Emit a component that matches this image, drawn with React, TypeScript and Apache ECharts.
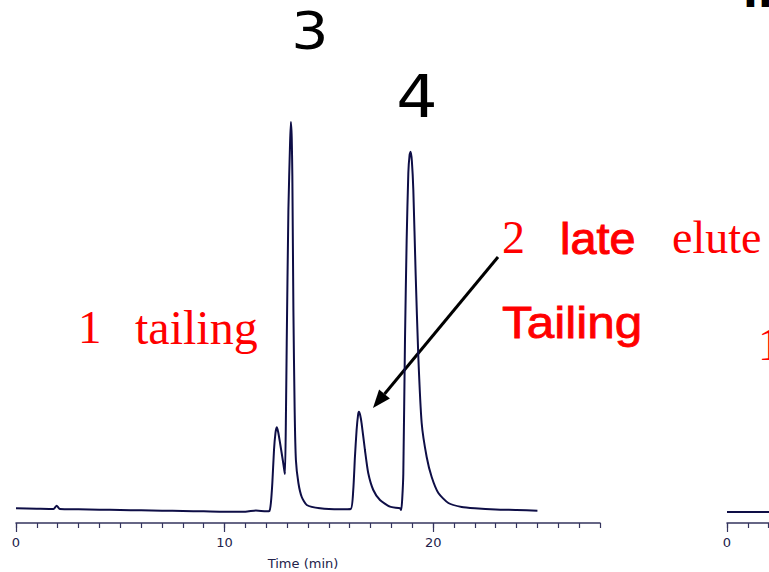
import React, { useEffect, useRef } from "react";
import * as echarts from "echarts";

// Chromatogram trace (time in min, detector signal in arbitrary units)
const timeMin = [
  0, 1, 1.8, 1.95, 2.1, 3, 4, 5, 6, 7, 8, 9, 10, 11, 11.5, 12, 12.15, 12.22, 12.29, 12.37,
  12.44, 12.5, 12.57, 12.66, 12.79, 12.87, 12.9, 12.945, 12.98, 13.06, 13.14, 13.18, 13.22,
  13.25, 13.3, 13.36, 13.42, 13.54, 13.7, 13.94, 14.58, 15.53, 16.05, 16.17, 16.25, 16.33,
  16.4, 16.44, 16.5, 16.57, 16.73, 16.89, 17.13, 17.45, 17.93, 18.41, 18.47, 18.52, 18.57,
  18.65, 18.73, 18.81, 18.87, 18.92, 18.98, 19.05, 19.16, 19.29, 19.45, 19.69, 19.93, 20.25,
  20.73, 21.37, 22, 23, 24, 25,
];
const signal = [
  14.7, 14.3, 14, 17.3, 14, 13.7, 13.3, 13, 12.7, 12.3, 12, 11.7, 11.3, 11.3, 12.5, 11.7, 12,
  20, 40, 73, 90, 95.7, 91, 80, 63, 52, 49, 113, 180, 313, 380, 401, 385, 346, 213, 113, 63,
  40, 26, 18, 14.7, 13.7, 14, 33, 66, 93, 108, 111.3, 108, 99.7, 73, 49.7, 33, 23, 16.3, 14.7,
  13, 25, 49.7, 183, 283, 350, 368, 371.3, 362, 333, 250, 166, 100, 66, 46, 30, 20, 16, 14.7,
  13.5, 13, 12.3,
];

// Neighbouring chromatogram (only its start is visible)
const timeMin2 = [0, 1, 2, 3];
const signal2 = [11, 11, 11, 11];

const majorTicks = [0, 10, 20];
const minorTicks = [0, 1, 2, 3, 4, 5, 6, 7, 8, 9, 10, 11, 12, 13, 14, 15, 16, 17, 18, 19, 20, 21, 22, 23, 24, 25, 26, 27, 28];
const majorTicks2 = [0];
const minorTicks2 = [0, 1, 2, 3];
const axisName = "Time (min)";

const AXIS = "#34345e";
const LABEL = "#22224a";
const TRACE = "#0e0e46";
const RED = "#ff0000";
const SERIF = '"Liberation Serif", "Times New Roman", serif';
const SANS = '"DejaVu Sans", sans-serif';
const ARIAL = '"Liberation Sans", Arial, sans-serif';

function minorAxis(gridIndex: number, ticks: number[]) {
  return {
    gridIndex,
    type: "value",
    min: 0,
    max: 28,
    interval: 1,
    position: "bottom",
    axisLine: { show: true, onZero: false, lineStyle: { color: AXIS, width: 1.5 } },
    axisTick: { show: true, customValues: ticks, length: 5, lineStyle: { color: AXIS, width: 1.2 } },
    axisLabel: { show: false },
    splitLine: { show: false },
  };
}

function majorAxis(gridIndex: number, ticks: number[], name: string) {
  return {
    gridIndex,
    type: "value",
    min: 0,
    max: 28,
    interval: 10,
    position: "bottom",
    name,
    nameLocation: "middle",
    nameGap: 34,
    nameTextStyle: { color: LABEL, fontSize: 13, fontFamily: SANS, padding: [0, 10, 0, 0] },
    axisLine: { show: false, onZero: false },
    axisTick: { show: true, customValues: ticks, length: 9, lineStyle: { color: AXIS, width: 1.2 } },
    axisLabel: {
      show: true,
      customValues: ticks,
      margin: 13,
      color: LABEL,
      fontSize: 13,
      fontFamily: SANS,
    },
    splitLine: { show: false },
  };
}

export default function App() {
  const ref = useRef<HTMLDivElement>(null);
  useEffect(() => {
    if (!ref.current) return;
    const chart = echarts.init(ref.current, undefined, { renderer: "svg" });
    const txt = (text: string, x: number, y: number, size: number, family: string, fill: string, scaleX = 1, strokeW = 0) => ({
      type: "text",
      x,
      y,
      scaleX,
      silent: true,
      style: {
        text,
        fill,
        fontSize: size,
        fontFamily: family,
        align: "left",
        verticalAlign: "middle",
        ...(strokeW > 0 ? { stroke: fill, lineWidth: strokeW } : {}),
      },
    });
    const option: any = {
      animation: false,
      backgroundColor: "#ffffff",
      grid: [
        { left: 16, top: 100, width: 584, height: 423, outerBoundsMode: "none", containLabel: false },
        { left: 727, top: 100, width: 584, height: 423, outerBoundsMode: "none", containLabel: false },
      ],
      xAxis: [
        minorAxis(0, minorTicks),
        majorAxis(0, majorTicks, axisName),
        minorAxis(1, minorTicks2),
        majorAxis(1, majorTicks2, ""),
      ],
      yAxis: [
        { gridIndex: 0, type: "value", min: 0, max: 423, show: false },
        { gridIndex: 1, type: "value", min: 0, max: 423, show: false },
      ],
      series: [
        {
          type: "line",
          xAxisIndex: 0,
          yAxisIndex: 0,
          data: timeMin.map((t, i) => [t, signal[i]]),
          showSymbol: false,
          smooth: 0.2,
          lineStyle: { color: TRACE, width: 2 },
        },
        {
          type: "line",
          xAxisIndex: 2,
          yAxisIndex: 1,
          data: timeMin2.map((t, i) => [t, signal2[i]]),
          showSymbol: false,
          lineStyle: { color: TRACE, width: 2 },
        },
      ],
      graphic: [
        { type: "text", x: 310, y: 31, scaleX: 1.15, silent: true, style: { text: "3", fill: "#000", fontSize: 51, fontFamily: SANS, align: "center", verticalAlign: "middle" } },
        { type: "text", x: 417, y: 97, scaleX: 1.1, silent: true, style: { text: "4", fill: "#000", fontSize: 59, fontFamily: SANS, align: "center", verticalAlign: "middle" } },
        txt("1", 78, 327, 47, SERIF, RED),
        txt("tailing", 135, 327, 48, SERIF, RED),
        txt("2", 502, 237, 46, SERIF, RED),
        txt("late", 560, 238, 45, ARIAL, RED, 1.04, 1),
        txt("elute", 672, 237, 46, SERIF, RED),
        txt("Tailing", 502, 322, 45, ARIAL, RED, 1.1, 0.8),
        txt("1", 758, 344, 46, SERIF, RED),
        { type: "text", x: 743, y: 13, silent: true, style: { text: "II", fill: "#000", fontSize: 40, fontFamily: SANS, fontWeight: "bold", align: "left", verticalAlign: "bottom" } },
        { type: "line", silent: true, shape: { x1: 498, y1: 257, x2: 384.5, y2: 394 }, style: { stroke: "#000", lineWidth: 3 } },
        { type: "polygon", silent: true, shape: { points: [[373, 408], [389.9, 398.6], [379.1, 389.6]] }, style: { fill: "#000" } },
      ],
    };
    chart.setOption(option);
    return () => chart.dispose();
  }, []);
  return (
    <div
      ref={ref}
      style={{ position: "fixed", left: 0, top: 0, width: 769, height: 572, background: "#fff" }}
    />
  );
}
